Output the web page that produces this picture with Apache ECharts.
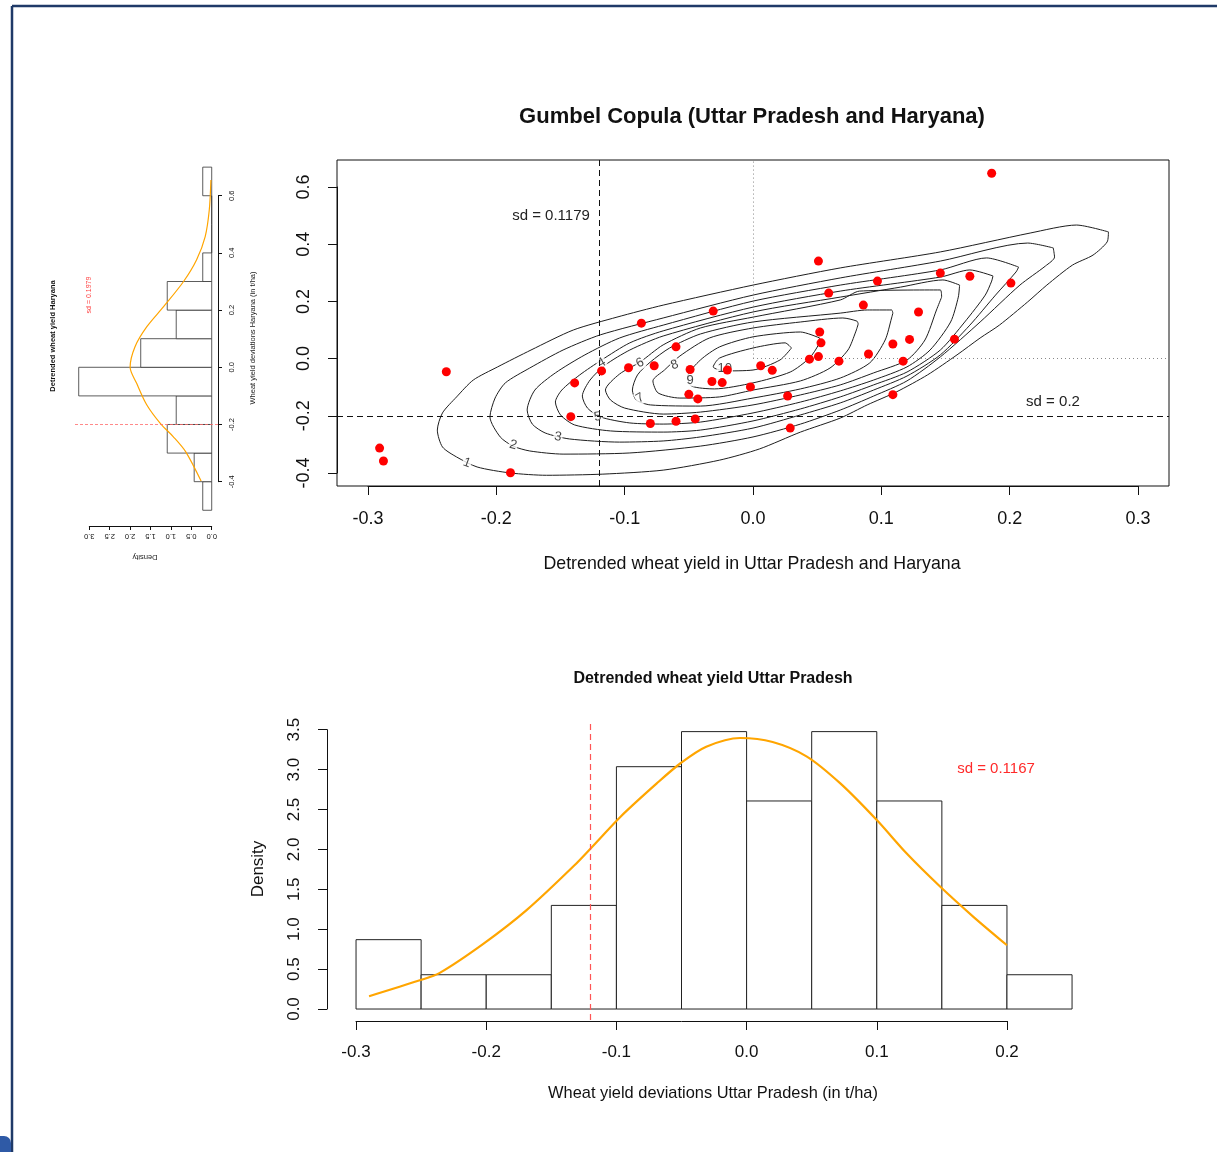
<!DOCTYPE html>
<html>
<head>
<meta charset="utf-8">
<script src="https://cdn.jsdelivr.net/npm/echarts@6/dist/echarts.min.js"></script>
<style>
html, body { margin: 0; padding: 0; background: #fff; }
#chart { width: 1217px; height: 1152px; }
</style>
</head>
<body>
<div id="chart"></div>
<script>
const FONT = '"Liberation Sans", Arial, Helvetica, sans-serif';

// copula scatter: detrended yields (x = Uttar Pradesh, y = Haryana)
const copulaX = [0.186, 0.051, 0.097, 0.146, 0.169, 0.201, 0.059, 0.086, 0.129, -0.031,
  -0.087, 0.052, 0.053, 0.157, 0.122, 0.109, -0.060, 0.090, 0.044, 0.051,
  0.067, 0.117, 0.006, 0.015, -0.020, -0.049, -0.077, -0.097, -0.118, -0.239,
  -0.139, -0.032, -0.024, -0.002, -0.050, -0.043, 0.027, 0.109, -0.142, -0.045,
  -0.060, -0.080, 0.029, -0.291, -0.288, -0.189];
const copulaY = [0.648, 0.341, 0.271, 0.299, 0.288, 0.264, 0.229, 0.187, 0.163, 0.166,
  0.124, 0.093, 0.055, 0.068, 0.067, 0.051, 0.041, 0.016, -0.002, 0.007,
  -0.009, -0.009, -0.025, -0.041, -0.040, -0.038, -0.025, -0.032, -0.043, -0.046,
  -0.085, -0.080, -0.084, -0.099, -0.125, -0.141, -0.131, -0.126, -0.203, -0.211,
  -0.219, -0.227, -0.243, -0.313, -0.358, -0.399];
const sdLineX = -0.1179;
const sdLineY = -0.2;

// density contours of the fitted copula (levels 1..10)
const contourLevels = ['1', '2', '3', '4', '5', '6', '7', '8', '9', '10'];
const contourX = [
  [0.277, 0.252, 0.216, 0.146, 0.068, 0, -0.070, -0.106, -0.140, -0.173, -0.199, -0.218, -0.231, -0.242, -0.246, -0.242, -0.231, -0.215, -0.189, -0.161, -0.117, -0.070, -0.026, 0.005, 0.037, 0.068, 0.089, 0.112, 0.136, 0.159, 0.177, 0.192, 0.214, 0.229, 0.249, 0.265, 0.276],
  [0.234, 0.214, 0.146, 0.068, 0, -0.070, -0.119, -0.148, -0.174, -0.193, -0.201, -0.205, -0.197, -0.187, -0.174, -0.148, -0.096, -0.041, 0, 0.037, 0.068, 0.094, 0.120, 0.146, 0.177, 0.208, 0.228, 0.235],
  [0.207, 0.182, 0.146, 0.068, 0, -0.070, -0.104, -0.131, -0.154, -0.170, -0.176, -0.172, -0.162, -0.143, -0.104, -0.070, -0.041, 0, 0.037, 0.068, 0.094, 0.120, 0.146, 0.169, 0.189, 0.205],
  [0.187, 0.169, 0.146, 0.068, 0, -0.070, -0.096, -0.118, -0.135, -0.149, -0.154, -0.150, -0.139, -0.111, -0.070, -0.041, 0, 0.037, 0.068, 0.094, 0.120, 0.146, 0.165, 0.181, 0.186],
  [0.161, 0.148, 0.115, 0.068, 0, -0.070, -0.096, -0.115, -0.127, -0.133, -0.129, -0.119, -0.096, -0.070, -0.041, 0, 0.037, 0.068, 0.094, 0.120, 0.138, 0.154, 0.160],
  [0.147, 0.146, 0.083, 0.068, 0, -0.041, -0.070, -0.088, -0.104, -0.115, -0.111, -0.100, -0.070, -0.041, 0, 0.037, 0.068, 0.094, 0.120, 0.134, 0.143],
  [0.109, 0.108, 0.089, 0.068, 0, -0.041, -0.065, -0.080, -0.090, -0.094, -0.091, -0.080, -0.041, 0, 0.037, 0.068, 0.091, 0.103, 0.108],
  [0.082, 0.081, 0.070, 0.037, 0, -0.034, -0.057, -0.069, -0.078, -0.074, -0.057, -0.026, 0, 0.037, 0.060, 0.074, 0.080],
  [0.052, 0.037, 0, -0.026, -0.041, -0.051, -0.048, -0.030, 0, 0.029, 0.044, 0.051],
  [0.030, 0.025, 0, -0.026, -0.031, -0.022, 0, 0.021]
];
const contourY = [
  [0.443, 0.467, 0.439, 0.373, 0.317, 0.257, 0.187, 0.145, 0.100, 0.030, -0.029, -0.075, -0.134, -0.190, -0.250, -0.309, -0.344, -0.379, -0.400, -0.408, -0.404, -0.390, -0.355, -0.316, -0.257, -0.208, -0.162, -0.116, -0.057, 0.013, 0.072, 0.117, 0.198, 0.257, 0.327, 0.362, 0.408],
  [0.387, 0.404, 0.341, 0.282, 0.222, 0.142, 0.083, 0.030, -0.033, -0.085, -0.138, -0.204, -0.274, -0.306, -0.323, -0.334, -0.330, -0.306, -0.274, -0.229, -0.180, -0.131, -0.078, 0.006, 0.128, 0.257, 0.324, 0.355],
  [0.320, 0.352, 0.310, 0.257, 0.201, 0.117, 0.072, 0.013, -0.050, -0.110, -0.180, -0.229, -0.260, -0.281, -0.292, -0.288, -0.274, -0.243, -0.197, -0.155, -0.110, -0.061, 0.013, 0.117, 0.222, 0.303],
  [0.289, 0.310, 0.285, 0.236, 0.180, 0.097, 0.055, -0.005, -0.057, -0.110, -0.152, -0.197, -0.232, -0.253, -0.257, -0.250, -0.218, -0.176, -0.134, -0.092, -0.047, 0.030, 0.128, 0.222, 0.271],
  [0.257, 0.275, 0.250, 0.215, 0.163, 0.079, 0.030, -0.022, -0.075, -0.131, -0.173, -0.204, -0.225, -0.229, -0.222, -0.190, -0.152, -0.113, -0.075, -0.029, 0.030, 0.128, 0.215],
  [0.215, 0.240, 0.236, 0.205, 0.145, 0.107, 0.048, -0.012, -0.054, -0.110, -0.145, -0.173, -0.194, -0.187, -0.162, -0.127, -0.092, -0.050, -0.005, 0.065, 0.170],
  [0.159, 0.170, 0.170, 0.159, 0.128, 0.086, 0.037, -0.012, -0.057, -0.110, -0.145, -0.162, -0.166, -0.138, -0.106, -0.068, -0.015, 0.065, 0.142],
  [0.121, 0.131, 0.142, 0.128, 0.107, 0.072, 0.009, -0.040, -0.078, -0.120, -0.138, -0.134, -0.110, -0.078, -0.033, 0.030, 0.093],
  [0.072, 0.093, 0.076, 0.041, -0.005, -0.064, -0.096, -0.106, -0.085, -0.047, 0.002, 0.048],
  [0.037, 0.055, 0.037, 0.002, -0.029, -0.043, -0.040, -0.005]
];
const contourLabelX = [-0.223, -0.187, -0.152, -0.118, -0.121, -0.088, -0.088, -0.061, -0.049, -0.022];
const contourLabelY = [-0.365, -0.302, -0.274, -0.015, -0.204, -0.015, -0.138, -0.022, -0.075, -0.033];
const contourLabelRot = [-20, -15, -10, 30, 10, 25, 30, 20, 0, 0];

// Uttar Pradesh histogram
const upBreaks = [-0.3, -0.25, -0.2, -0.15, -0.1, -0.05, 0, 0.05, 0.1, 0.15, 0.2, 0.25];
const upDensity = [0.87, 0.43, 0.43, 1.30, 3.04, 3.48, 2.61, 3.48, 2.61, 1.30, 0.43];
const upCurveX = [-0.290, -0.251, -0.236, -0.202, -0.169, -0.133, -0.116, -0.097, -0.069, -0.051, -0.031, -0.005, 0.020, 0.046, 0.072, 0.100, 0.123, 0.149, 0.174, 0.200];
const upCurveY = [0.16, 0.36, 0.45, 0.82, 1.24, 1.79, 2.08, 2.41, 2.83, 3.08, 3.29, 3.40, 3.35, 3.17, 2.83, 2.37, 1.95, 1.53, 1.16, 0.80];
const upSdLine = -0.1167;

// Haryana histogram (drawn rotated)
const hrBreaks = [-0.5, -0.4, -0.3, -0.2, -0.1, 0, 0.1, 0.2, 0.3, 0.4, 0.5, 0.6, 0.7];
const hrDensity = [0.22, 0.43, 1.09, 0.87, 3.26, 1.74, 0.87, 1.09, 0.22, 0, 0, 0.22];
const hrCurveYield = [-0.398, -0.295, -0.243, -0.198, -0.132, -0.056, 0.0, 0.072, 0.142, 0.212, 0.30, 0.376, 0.457, 0.55, 0.655];
const hrCurveDensity = [0.26, 0.64, 0.94, 1.25, 1.59, 1.84, 2.0, 1.88, 1.59, 1.18, 0.69, 0.37, 0.16, 0.06, 0.02];
const hrSdLine = -0.2;

// plot-region limits (R style 4% extension)
const scatXMin = -0.3242, scatXMax = 0.3242, scatYMin = -0.4455, scatYMax = 0.6944;

function tickFmt(v) {
  return Math.abs(v) < 1e-9 ? '0.0' : v.toFixed(1);
}

function hidden(grid, min, max, inverse) {
  return { type: 'value', gridIndex: grid, min: min, max: max, inverse: !!inverse, show: false };
}

function shownAxis(grid, min, max, interval, pos, size, margin, tickLen, rotate, inverse) {
  return {
    type: 'value', gridIndex: grid, min: min, max: max, interval: interval, position: pos,
    inverse: !!inverse,
    axisLine: { show: true, onZero: false, lineStyle: { color: '#111', width: 1 } },
    axisTick: { show: true, length: tickLen, lineStyle: { color: '#111', width: 1 } },
    axisLabel: { fontSize: size, margin: margin, color: '#111', fontFamily: FONT,
      rotate: rotate, formatter: tickFmt, showMinLabel: true, showMaxLabel: true },
    splitLine: { show: false }
  };
}

function txt(s, x, y, size, bold, color, rot) {
  return {
    type: 'text', x: x, y: y, rotation: rot || 0, z: 20,
    style: { text: s, fontSize: size, fontFamily: FONT, fontWeight: bold ? 'bold' : 'normal',
      fill: color || '#111', align: 'center', verticalAlign: 'middle' }
  };
}

const chart = echarts.init(document.getElementById('chart'));

const contourSeries = contourX.map(function (xs, i) {
  const pts = xs.map(function (x, j) { return [x, contourY[i][j]]; });
  pts.push(pts[0]);
  return {
    type: 'line', xAxisIndex: 0, yAxisIndex: 0, data: pts, showSymbol: false, symbol: 'none',
    smooth: 0.25, z: 3, silent: true,
    lineStyle: { color: '#1e1e1e', width: 1 }
  };
});

chart.setOption({
  animation: false,
  backgroundColor: '#fff',
  grid: [
    { left: 337, top: 160, width: 832, height: 326, show: true, borderColor: '#111', borderWidth: 1 },
    { left: 368, top: 160, width: 770, height: 326 },
    { left: 337, top: 187, width: 832, height: 286 },
    { left: 327.4, top: 720.7, width: 773.3, height: 299.4 },
    { left: 356, top: 720.7, width: 651, height: 300.3 },
    { left: 327, top: 729.7, width: 773, height: 279.3 },
    { left: 73, top: 153.4, width: 145, height: 370.6 },
    { left: 73, top: 195.7, width: 145, height: 286 },
    { left: 89.3, top: 153.4, width: 122.4, height: 372.6 }
  ],
  xAxis: [
    hidden(0, scatXMin, scatXMax),
    shownAxis(1, -0.3, 0.3, 0.1, 'bottom', 18, 24, 9, 0),
    hidden(2, 0, 1),
    hidden(3, -0.322, 0.272),
    shownAxis(4, -0.3, 0.2, 0.1, 'bottom', 17, 23, 9, 0),
    hidden(5, 0, 1),
    hidden(6, -0.154, 3.40, true),
    hidden(7, 0, 1),
    shownAxis(8, 0, 3, 0.5, 'bottom', 7.5, 6, 4, 180, true)
  ],
  yAxis: [
    hidden(0, scatYMin, scatYMax),
    hidden(1, 0, 1),
    shownAxis(2, -0.4, 0.6, 0.2, 'left', 18, 24, 9, 90),
    hidden(3, -0.139, 3.617),
    hidden(4, 0, 1),
    shownAxis(5, 0, 3.5, 0.5, 'left', 17, 24, 9, 90),
    hidden(6, -0.548, 0.748),
    shownAxis(7, -0.4, 0.6, 0.2, 'right', 7.5, 10, 4, 90),
    hidden(8, 0, 1)
  ],
  graphic: [
    { type: 'line', shape: { x1: 12, y1: 6, x2: 1217, y2: 6 }, style: { stroke: '#1f3a68', lineWidth: 2.5 } },
    { type: 'line', shape: { x1: 12, y1: 6, x2: 12, y2: 1152 }, style: { stroke: '#1f3a68', lineWidth: 2.5 } },
    { type: 'rect', shape: { x: 0, y: 1136, width: 11, height: 16, r: [0, 7, 0, 0] }, style: { fill: '#2f5aa6' } },
    txt('Gumbel Copula (Uttar Pradesh and Haryana)', 752, 117, 22, true),
    txt('Detrended wheat yield in Uttar Pradesh and Haryana', 752, 564, 17.8),
    txt('sd = 0.1179', 551, 216, 15, false, '#222'),
    txt('sd = 0.2', 1053, 402, 15, false, '#222'),
    txt('Detrended wheat yield Uttar Pradesh', 713, 679, 16, true),
    txt('Wheat yield deviations Uttar Pradesh (in t/ha)', 713, 1093, 16.4),
    txt('Density', 258, 869, 17, false, '#111', Math.PI / 2),
    txt('sd = 0.1167', 996, 769, 15, false, '#ff2a2a'),
    txt('Detrended wheat yield Haryana', 53, 336, 7.5, true, '#111', Math.PI / 2),
    txt('sd = 0.1979', 89, 295, 7, false, '#ff4040', Math.PI / 2),
    txt('Wheat yield deviations Haryana (in t/ha)', 253, 338, 7.5, false, '#222', Math.PI / 2),
    txt('Density', 145, 557, 7.5, false, '#222', Math.PI)
  ],
  series: contourSeries.concat([
    {
      type: 'scatter', xAxisIndex: 0, yAxisIndex: 0, z: 4, symbolSize: 0, silent: true,
      data: contourLevels.map(function (l, i) {
        return { name: l, value: [contourLabelX[i], contourLabelY[i]], label: { rotate: contourLabelRot[i] } };
      }),
      label: { show: true, position: 'inside', formatter: '{b}', fontSize: 13, color: '#111',
        fontFamily: FONT, backgroundColor: '#fff', padding: [0, 1] }
    },
    {
      type: 'scatter', xAxisIndex: 0, yAxisIndex: 0, z: 5, symbolSize: 9, silent: true,
      data: copulaX.map(function (x, i) { return [x, copulaY[i]]; }),
      itemStyle: { color: '#ff0000', opacity: 1 },
      markLine: {
        silent: true, symbol: ['none', 'none'], label: { show: false },
        data: [
          { xAxis: sdLineX, lineStyle: { color: '#111', type: [6, 4], width: 1 } },
          { yAxis: sdLineY, lineStyle: { color: '#111', type: [6, 4], width: 1 } },
          [{ coord: [0, 0], lineStyle: { color: '#888', type: [1, 3], width: 1 } }, { coord: [0, scatYMax] }],
          [{ coord: [0, 0], lineStyle: { color: '#888', type: [1, 3], width: 1 } }, { coord: [scatXMax, 0] }]
        ]
      }
    },
    {
      type: 'custom', xAxisIndex: 3, yAxisIndex: 3, z: 2, silent: true,
      data: upDensity.map(function (d, i) { return [upBreaks[i], upBreaks[i + 1], d]; }),
      renderItem: function (params, api) {
        const p0 = api.coord([api.value(0), 0]);
        const p1 = api.coord([api.value(1), api.value(2)]);
        return { type: 'rect', shape: { x: p0[0], y: p1[1], width: p1[0] - p0[0], height: p0[1] - p1[1] },
          style: { fill: '#fff', stroke: '#222', lineWidth: 1 } };
      },
      markLine: {
        silent: true, symbol: ['none', 'none'], label: { show: false },
        data: [{ xAxis: upSdLine, lineStyle: { color: '#ff5555', type: [6, 4], width: 1.2 } }]
      }
    },
    {
      type: 'line', xAxisIndex: 3, yAxisIndex: 3, z: 4, showSymbol: false, symbol: 'none', smooth: 0.3, silent: true,
      data: upCurveX.map(function (x, i) { return [x, upCurveY[i]]; }),
      lineStyle: { color: '#FFA500', width: 2.2 }
    },
    {
      type: 'custom', xAxisIndex: 6, yAxisIndex: 6, z: 2, silent: true,
      data: hrDensity.map(function (d, i) { return [hrBreaks[i], hrBreaks[i + 1], d]; }),
      renderItem: function (params, api) {
        const p0 = api.coord([0, api.value(0)]);
        const p1 = api.coord([api.value(2), api.value(1)]);
        return { type: 'rect',
          shape: { x: Math.min(p0[0], p1[0]), y: Math.min(p0[1], p1[1]),
            width: Math.abs(p1[0] - p0[0]), height: Math.abs(p1[1] - p0[1]) },
          style: { fill: '#fff', stroke: '#333', lineWidth: 0.8 } };
      },
      markLine: {
        silent: true, symbol: ['none', 'none'], label: { show: false },
        data: [{ yAxis: hrSdLine, lineStyle: { color: '#ff6b6b', type: [3, 2], width: 0.8 } }]
      }
    },
    {
      type: 'line', xAxisIndex: 6, yAxisIndex: 6, z: 4, showSymbol: false, symbol: 'none', smooth: 0.3, silent: true,
      data: hrCurveYield.map(function (y, i) { return [hrCurveDensity[i], y]; }),
      lineStyle: { color: '#FFA500', width: 1.2 }
    }
  ])
});
</script>
</body>
</html>
